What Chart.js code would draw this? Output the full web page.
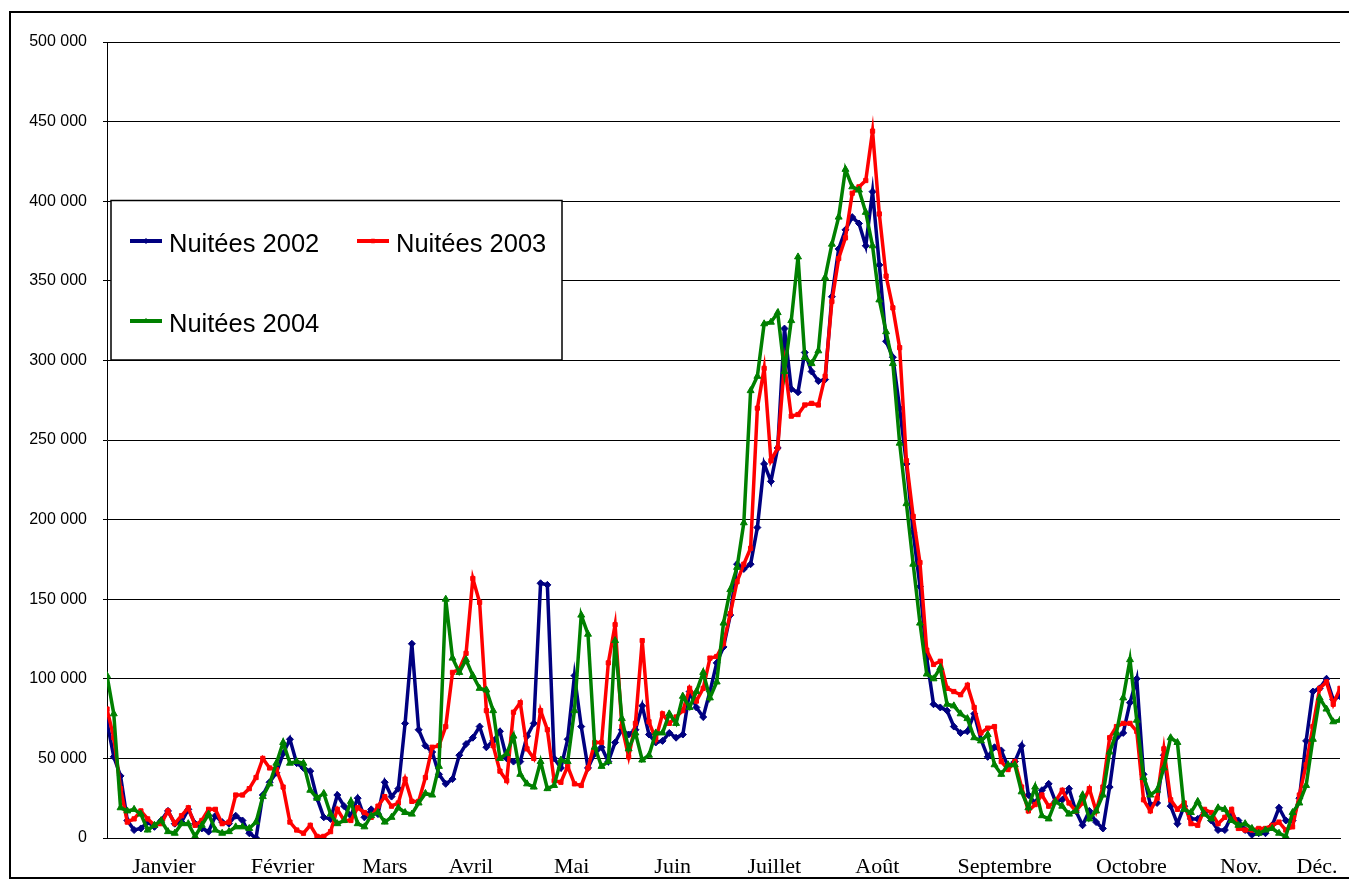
<!DOCTYPE html>
<html>
<head>
<meta charset="utf-8">
<script src="https://cdn.jsdelivr.net/npm/chart.js@4.4.0/dist/chart.umd.min.js"></script>
<style>
  html, body { margin: 0; padding: 0; background: #fff; }
  #wrap { width: 1349px; height: 882px; position: relative; }
</style>
</head>
<body>
<div id="wrap"><canvas id="chartNuitees"></canvas></div>
<script>
// Nuitées, in thousands, one reading every two days (Jan 1 -> Dec 31)
const nuitees2002 = [
  73, 51, 39, 11, 5, 6, 10, 7, 11, 17,
  9, 10, 18, 9, 6, 4, 14, 10, 9, 14,
  11, 3, 0, 27, 35, 41, 53, 62, 47, 44,
  42, 25, 13, 12, 27, 20, 14, 25, 13, 18,
  15, 35, 26, 31, 72, 122, 68, 58, 54, 40,
  34, 37, 52, 59, 63, 70, 57, 61, 67, 50,
  48, 48, 64, 72, 160, 159, 50, 44, 62, 102,
  70, 44, 53, 57, 48, 60, 68, 65, 68, 83,
  65, 60, 61, 66, 63, 65, 92, 82, 76, 92,
  110, 120, 140, 172, 169, 172, 195, 235, 224, 245,
  320, 282, 280, 305, 293, 287, 288, 340, 370, 382,
  390, 386, 372, 406, 360, 312, 302, 270, 235, 192,
  158, 113, 84, 82, 80, 70, 66, 67, 78, 62,
  51, 57, 55, 45, 48, 58, 27, 22, 30, 34,
  23, 24, 31, 17, 8, 17, 10, 6, 32, 63,
  66, 85, 100, 40, 21, 22, 52, 20, 9, 20,
  12, 12, 16, 11, 5, 5, 14, 11, 5, 2,
  3, 3, 8, 19, 11, 11, 25, 61, 92, 94,
  100, 87, 89
];
const nuitees2003 = [
  81, 63, 31, 10, 12, 17, 12, 8, 9, 17,
  9, 14, 19, 8, 11, 18, 18, 9, 10, 27,
  27, 31, 38, 50, 44, 43, 32, 10, 5, 3,
  8, 1, 1, 4, 18, 11, 11, 19, 16, 13,
  20, 26, 20, 22, 37, 23, 23, 38, 57, 58,
  70, 104, 106, 116, 163, 148, 80, 58, 42, 36,
  79, 85, 56, 50, 80, 68, 36, 35, 45, 34,
  33, 44, 60, 60, 110, 134, 70, 51, 72, 124,
  73, 62, 78, 72, 76, 80, 94, 86, 94, 113,
  114, 122, 141, 161, 172, 182, 270, 295, 237, 245,
  298, 265, 266, 272, 273, 272, 290, 337, 364, 377,
  405, 409, 413, 444, 392, 353, 333, 308, 237, 202,
  173, 118, 109, 111, 94, 92, 90, 96, 82, 66,
  69, 70, 48, 43, 48, 32, 17, 21, 27, 20,
  23, 30, 22, 17, 22, 31, 17, 32, 63, 70,
  72, 72, 67, 24, 17, 25, 56, 24, 18, 22,
  9, 8, 18, 16, 9, 13, 18, 6, 5, 5,
  6, 6, 8, 10, 5, 7, 27, 46, 70, 94,
  98, 84, 94
];
const nuitees2004 = [
  102, 78, 19, 17, 18, 15, 5, 8, 11, 4,
  3, 9, 9, 1, 8, 15, 5, 3, 4, 7,
  7, 6, 10, 26, 34, 47, 60, 47, 48, 47,
  30, 25, 28, 15, 9, 11, 23, 9, 7, 14,
  16, 10, 13, 19, 16, 15, 22, 28, 27, 45,
  150, 113, 104, 112, 102, 94, 93, 80, 50, 53,
  64, 40, 34, 32, 48, 31, 33, 49, 48, 80,
  140, 128, 57, 45, 48, 124, 75, 56, 66, 49,
  52, 66, 66, 78, 72, 89, 82, 92, 104, 88,
  98, 135, 156, 170, 198, 281, 290, 323, 324, 330,
  293, 325, 365, 302, 298, 306, 352, 373, 390, 420,
  409, 407, 393, 372, 338, 318, 298, 248, 210, 172,
  135, 103, 100, 107, 84, 83, 78, 75, 63, 61,
  65, 46, 40, 46, 46, 29, 19, 32, 14, 12,
  23, 20, 15, 17, 27, 12, 17, 27, 54, 66,
  88, 112, 74, 38, 27, 30, 44, 63, 60, 18,
  16, 23, 15, 12, 19, 18, 11, 8, 9, 6,
  3, 5, 6, 3, 1, 16, 22, 33, 62, 88,
  81, 73, 74
];

// month names and where they sit on the reading index
const monthLabels = ['Janvier', 'Février', 'Mars', 'Avril', 'Mai', 'Juin', 'Juillet',
  'Août', 'Septembre', 'Octobre', 'Nov.', 'Déc.'];
const monthTickPos = [8.4, 25.9, 41.0, 53.7, 68.6, 83.5, 98.5, 113.7, 132.5, 151.2, 167.4, 178.6];

const seriesNames = ['Nuitées 2002', 'Nuitées 2003', 'Nuitées 2004'];

function toPoints(values) {
  return values.map((v, i) => ({ x: i, y: v * 1000 }));
}

function formatThousands(v) {
  return String(v).replace(/\B(?=(\d{3})+(?!\d))/g, ' ');
}

// white background + outer frame
const frame = {
  id: 'frame',
  beforeDraw(chart) {
    const ctx = chart.ctx;
    ctx.save();
    ctx.fillStyle = '#fff';
    ctx.fillRect(0, 0, chart.width, chart.height);
    ctx.restore();
  },
  afterDraw(chart) {
    const ctx = chart.ctx;
    ctx.save();
    ctx.strokeStyle = '#000';
    ctx.lineWidth = 2;
    ctx.strokeRect(10, 12, 1345, 866);
    ctx.restore();
  }
};

// legend box drawn inside the plot, like the original
const legendBox = {
  id: 'legendBox',
  afterDatasetsDraw(chart) {
    const ctx = chart.ctx;
    const items = [
      { ds: 0, x: 130, y: 241 },
      { ds: 1, x: 357, y: 241 },
      { ds: 2, x: 130, y: 321 }
    ];
    ctx.save();
    ctx.fillStyle = '#fff';
    ctx.fillRect(111, 200, 451, 160);
    ctx.strokeStyle = '#000';
    ctx.lineWidth = 1.5;
    ctx.strokeRect(111, 200.5, 451, 159.5);

    ctx.font = '25.5px "Liberation Sans", Arial, sans-serif';
    ctx.textBaseline = 'alphabetic';
    ctx.textAlign = 'left';
    items.forEach(function (it) {
      const ds = chart.data.datasets[it.ds];
      ctx.strokeStyle = ds.borderColor;
      ctx.lineWidth = 4;
      ctx.beginPath();
      ctx.moveTo(it.x, it.y);
      ctx.lineTo(it.x + 32, it.y);
      ctx.stroke();
      ctx.fillStyle = ds.borderColor;
      ctx.lineWidth = 1;
      Chart.helpers.drawPoint(ctx, {
        pointStyle: ds.pointStyle,
        radius: 2.5,
        rotation: 0,
        borderWidth: 1
      }, it.x + 16, it.y);
      ctx.fillStyle = '#000';
      ctx.fillText(seriesNames[it.ds], it.x + 39, it.y + 11);
    });
    ctx.restore();
  }
};

const ctx = document.getElementById('chartNuitees').getContext('2d');

new Chart(ctx, {
  type: 'line',
  data: {
    datasets: [
      {
        label: seriesNames[0],
        data: toPoints(nuitees2002),
        borderColor: '#000080',
        backgroundColor: '#000080',
        pointStyle: 'rectRot',
        pointRadius: 3.5,
        pointBorderWidth: 1,
        borderWidth: 3.5,
        tension: 0,
        order: 2
      },
      {
        label: seriesNames[1],
        data: toPoints(nuitees2003),
        borderColor: '#ff0000',
        backgroundColor: '#ff0000',
        pointStyle: 'rect',
        pointRadius: 3,
        pointBorderWidth: 1,
        borderWidth: 3.5,
        tension: 0,
        order: 1
      },
      {
        label: seriesNames[2],
        data: toPoints(nuitees2004),
        borderColor: '#008000',
        backgroundColor: '#008000',
        pointStyle: 'triangle',
        pointRadius: 4,
        pointBorderWidth: 1,
        borderWidth: 3.5,
        tension: 0,
        order: 0
      }
    ]
  },
  options: {
    responsive: true,
    maintainAspectRatio: false,
    animation: false,
    devicePixelRatio: 1,
    layout: { padding: { top: 42, right: 9, bottom: 0, left: 0 } },
    plugins: {
      legend: { display: false },
      tooltip: { enabled: false }
    },
    scales: {
      x: {
        type: 'linear',
        min: 0,
        max: nuitees2002.length - 1,
        grid: { display: false, drawTicks: false },
        border: { display: true, color: '#000', width: 1 },
        afterBuildTicks: function (scale) {
          scale.ticks = monthTickPos.map(v => ({ value: v }));
        },
        afterFit: function (scale) {
          scale.height = 44;
          scale.paddingLeft = 0;
          scale.paddingRight = 0;
        },
        ticks: {
          autoSkip: false,
          maxRotation: 0,
          padding: 16,
          color: '#000',
          font: { family: '"Liberation Serif", "Times New Roman", serif', size: 22 },
          callback: function (value, index) {
            return monthLabels[index];
          }
        }
      },
      y: {
        min: 0,
        max: 500000,
        grid: { color: '#000', lineWidth: 1, tickLength: 4, drawTicks: true },
        border: { display: true, color: '#000', width: 1 },
        afterFit: function (scale) {
          scale.width = 107;
          scale.paddingTop = 0;
          scale.paddingBottom = 0;
        },
        ticks: {
          stepSize: 50000,
          padding: 16,
          color: '#000',
          font: { family: '"Liberation Sans", Arial, sans-serif', size: 16 },
          callback: function (value) {
            return formatThousands(value);
          }
        }
      }
    }
  },
  plugins: [frame, legendBox]
});
</script>
</body>
</html>
